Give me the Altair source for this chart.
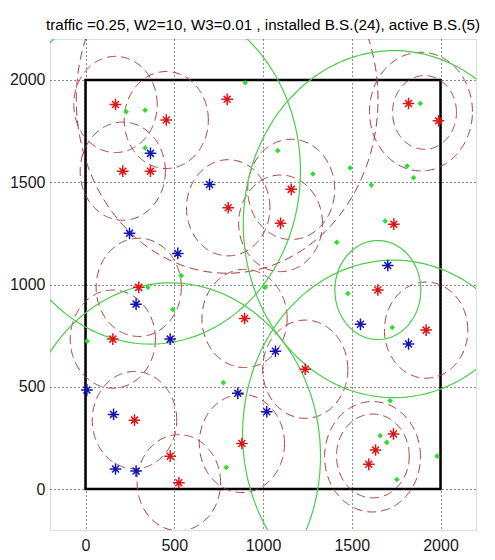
import altair as alt
import pandas as pd
import numpy as np

TITLE = "traffic =0.25, W2=10, W3=0.01 , installed B.S.(24), active B.S.(5)"

x_ticks = [0, 500, 1000, 1500, 2000]
y_ticks = [0, 500, 1000, 1500, 2000]
x_domain = [-200, 2200]
y_domain = [-200, 2200]

# service region (square)
region_x = [0, 2000]
region_y = [0, 2000]

# installed base stations (red stars)
red_x = [169, 455, 798, 210, 366, 804, 300, 1820, 1989, 1159, 1099, 1737,
         1647, 896, 154, 276, 477, 526, 881, 1919, 1238, 1735, 1634, 1596]
red_y = [1880, 1804, 1905, 1554, 1554, 1375, 986, 1885, 1800, 1465, 1299, 1295,
         973, 834, 733, 337, 161, 31, 223, 777, 586, 269, 191, 121]

# blue stars
blue_x = [366, 699, 248, 520, 1703, 285, 477, 8, 858, 158, 169, 285, 1549, 1820, 1070, 1021]
blue_y = [1641, 1489, 1250, 1152, 1093, 904, 733, 484, 468, 365, 98, 88, 806, 709, 674, 378]

# green diamonds
green_x = [229, 336, 336, 900, 539, 351, 1886, 1083, 1281, 1491, 1812, 1848, 1610, 1688,
           1416, 1012, 492, 9, 777, 793, 1478, 1728, 1660, 1697, 1754, 1981, 1716]
green_y = [1844, 1852, 1668, 1986, 1043, 986, 1885, 1654, 1540, 1570, 1579, 1522, 1486, 1310,
           1206, 986, 878, 723, 520, 106, 956, 790, 261, 228, 47, 161, 432]

# dashed (red) coverage circles: centre and radius
dash_cx = [169, 455, 210, 804, 1159, 1099, 1910, 1890, 300, 154, 276, 526, 881, 896,
           1238, 1919, 1619, 1617, 798]
dash_cy = [1880, 1804, 1554, 1375, 1465, 1299, 1841, 1845, 986, 733, 337, 31, 223, 834,
           586, 777, 162, 158, 1905]
dash_r = [235, 237, 240, 235, 245, 236, 180, 290, 240, 240, 238, 235, 240, 240,
          240, 235, 205, 270, 850]

# active base stations: green circles
active_cx = [1737, 366, 477, 1735, 1647]
active_cy = [1295, 1554, 161, 269, 973]
active_r = [848, 845, 847, 850, 242]


def rings(cx, cy, r, n=240):
    rows = []
    t = np.linspace(0, 2 * np.pi, n + 1)
    for i, (a, b, c) in enumerate(zip(cx, cy, r)):
        for k, tt in enumerate(t):
            rows.append({"cid": i, "k": k, "x": a + c * np.cos(tt), "y": b + c * np.sin(tt)})
    return pd.DataFrame(rows)


dash_df = rings(dash_cx, dash_cy, dash_r)
act_df = rings(active_cx, active_cy, active_r)
red_df = pd.DataFrame({"x": red_x, "y": red_y})
blue_df = pd.DataFrame({"x": blue_x, "y": blue_y})
green_df = pd.DataFrame({"x": green_x, "y": green_y})
region_df = pd.DataFrame({"x": [region_x[0]], "x2": [region_x[1]],
                          "y": [region_y[0]], "y2": [region_y[1]]})

FONT = "Liberation Sans"

xs = alt.Scale(domain=x_domain, nice=False, zero=False)
ys = alt.Scale(domain=y_domain, nice=False, zero=False)
x_axis = alt.Axis(values=x_ticks, title=None, grid=True, ticks=False, domain=False,
                  labelPadding=7, format="d", gridDash=[1, 3], gridColor="black",
                  gridOpacity=0.9, labelFont=FONT, labelFontSize=16, labelColor="#1a1a1a")
y_axis = alt.Axis(values=y_ticks, title=None, grid=True, ticks=False, domain=False,
                  labelPadding=5, format="d", gridDash=[1, 3], gridColor="black",
                  gridOpacity=0.9, labelFont=FONT, labelFontSize=16, labelColor="#1a1a1a")

X = alt.X("x:Q", scale=xs, axis=x_axis)
Y = alt.Y("y:Q", scale=ys, axis=y_axis)

STAR = "M-1,0L1,0M0,-1L0,1M-0.6,-0.6L0.6,0.6M-0.6,0.6L0.6,-0.6"

square = alt.Chart(region_df).mark_rect(fillOpacity=0, stroke="black", strokeWidth=2.5).encode(
    x=X, x2="x2:Q", y=Y, y2="y2:Q")

dashed = alt.Chart(dash_df).mark_line(clip=True, color="#a83a3a", strokeWidth=1,
                                      strokeDash=[9, 5]).encode(
    x=X, y=Y, detail="cid:N", order="k:Q")

active = alt.Chart(act_df).mark_line(clip=True, color="#4ccc4c", strokeWidth=1.2).encode(
    x=X, y=Y, detail="cid:N", order="k:Q")

diamonds = alt.Chart(green_df).mark_point(shape="diamond", filled=True, size=32,
                                          color="#2fdc2f", opacity=1).encode(x=X, y=Y)

reds = alt.Chart(red_df).mark_point(shape=STAR, filled=False, size=135, strokeWidth=1.5,
                                    color="#e01414", opacity=1).encode(x=X, y=Y)

blues = alt.Chart(blue_df).mark_point(shape=STAR, filled=False, size=135, strokeWidth=1.5,
                                      color="#1414b4", opacity=1).encode(x=X, y=Y)

chart = alt.layer(square, dashed, active, diamonds, reds, blues).properties(
    width=426, height=491,
    title=alt.TitleParams(TITLE, font=FONT, fontSize=15.2, fontWeight="normal",
                          color="black", anchor="middle", offset=6, limit=600),
    autosize=alt.AutoSizeParams(type="none"),
    padding={"left": 42, "top": 31, "right": 10, "bottom": 22},
).configure_view(stroke="black", strokeWidth=1).configure(background="white")

chart.save("out.html", embed_options={"renderer": "svg", "actions": False})
